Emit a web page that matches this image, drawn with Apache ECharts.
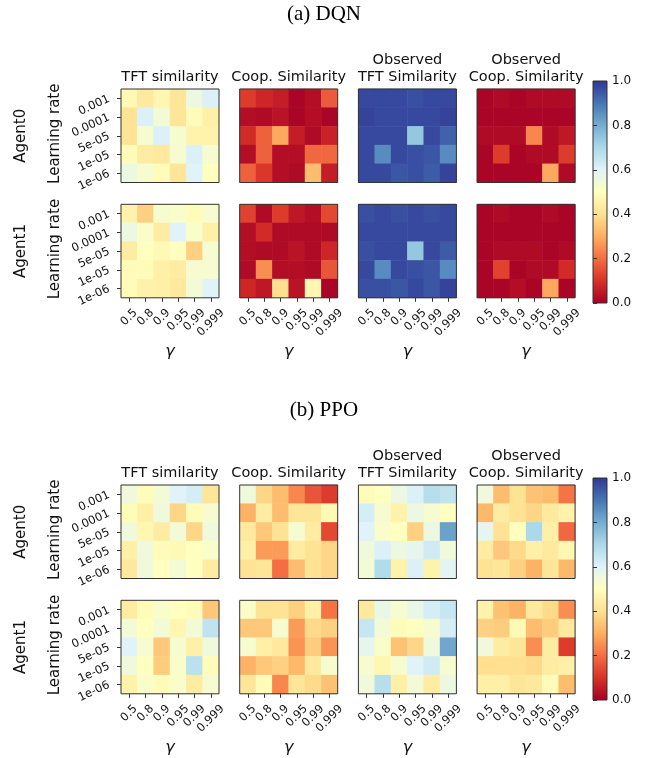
<!DOCTYPE html>
<html><head><meta charset="utf-8">
<script src="https://cdn.jsdelivr.net/npm/echarts@6/dist/echarts.min.js"></script>
<style>html,body{margin:0;padding:0;background:#fff}#chart{width:649px;height:758px}</style>
</head><body><div id="chart"></div>
<script>
const gammas = ['0.5','0.8','0.9','0.95','0.99','0.999'];
const learningRates = ['0.001','0.0001','5e-05','1e-05','1e-06'];
const metricTitles = ['TFT similarity','Coop. Similarity','Observed\nTFT Similarity','Observed\nCoop. Similarity'];
const agentNames = ['Agent0','Agent1'];
const sectionTitles = ['(a) DQN','(b) PPO'];
const rdylbu = ['#a50026','#d73027','#f46d43','#fdae61','#fee090','#ffffbf','#e0f3f8','#abd9e9','#74add1','#4575b4','#313695'];

// rows: learning rate 0.001 .. 1e-06 ; columns: gamma 0.5 .. 0.999
const dqnAgent0TFT = [
 [0.48,0.43,0.47,0.42,0.56,0.61],
 [0.41,0.61,0.54,0.42,0.49,0.45],
 [0.41,0.53,0.61,0.53,0.46,0.46],
 [0.49,0.44,0.43,0.53,0.61,0.53],
 [0.56,0.53,0.49,0.42,0.60,0.50]
];
const dqnAgent0Coop = [
 [0.12,0.08,0.06,0.01,0.03,0.17],
 [0.03,0.02,0.04,0.01,0.03,0.01],
 [0.09,0.18,0.29,0.06,0.02,0.07],
 [0.03,0.18,0.03,0.03,0.19,0.19],
 [0.18,0.11,0.03,0.02,0.33,0.06]
];
const dqnAgent0ObsTFT = [
 [0.97,0.97,0.97,0.96,0.97,0.97],
 [0.98,0.97,0.97,0.97,0.97,0.98],
 [0.97,0.97,0.97,0.74,0.97,0.93],
 [0.97,0.86,0.97,0.96,0.95,0.86],
 [0.97,0.97,0.95,0.96,0.94,0.98]
];
const dqnAgent0ObsCoop = [
 [0.01,0.02,0.01,0.02,0.02,0.02],
 [0.01,0.01,0.01,0.01,0.01,0.01],
 [0.02,0.02,0.02,0.24,0.02,0.05],
 [0.01,0.12,0.01,0.02,0.02,0.12],
 [0.01,0.01,0.01,0.01,0.29,0.02]
];
const dqnAgent1TFT = [
 [0.46,0.37,0.53,0.52,0.49,0.53],
 [0.56,0.52,0.44,0.60,0.52,0.45],
 [0.44,0.50,0.48,0.50,0.37,0.53],
 [0.49,0.49,0.45,0.44,0.53,0.53],
 [0.49,0.46,0.45,0.43,0.54,0.60]
];
const dqnAgent1Coop = [
 [0.13,0.02,0.12,0.05,0.03,0.14],
 [0.03,0.09,0.02,0.02,0.02,0.02],
 [0.03,0.02,0.02,0.04,0.02,0.08],
 [0.02,0.25,0.03,0.03,0.02,0.16],
 [0.08,0.05,0.40,0.04,0.47,0.01]
];
const dqnAgent1ObsTFT = [
 [0.96,0.97,0.96,0.97,0.96,0.97],
 [0.97,0.97,0.97,0.97,0.97,0.97],
 [0.96,0.97,0.97,0.74,0.97,0.94],
 [0.97,0.86,0.97,0.96,0.95,0.86],
 [0.96,0.96,0.95,0.97,0.95,0.98]
];
const dqnAgent1ObsCoop = [
 [0.01,0.02,0.01,0.01,0.02,0.01],
 [0.01,0.01,0.01,0.01,0.01,0.01],
 [0.01,0.02,0.02,0.02,0.01,0.02],
 [0.01,0.13,0.01,0.02,0.02,0.09],
 [0.01,0.01,0.03,0.01,0.29,0.01]
];
const ppoAgent0TFT = [
 [0.55,0.49,0.54,0.60,0.62,0.42],
 [0.49,0.45,0.55,0.38,0.49,0.53],
 [0.55,0.47,0.44,0.54,0.38,0.55],
 [0.45,0.55,0.49,0.48,0.50,0.52],
 [0.43,0.55,0.50,0.54,0.50,0.44]
];
const ppoAgent0Coop = [
 [0.55,0.38,0.33,0.24,0.16,0.12],
 [0.31,0.44,0.33,0.42,0.42,0.48],
 [0.43,0.35,0.41,0.53,0.44,0.14],
 [0.45,0.27,0.27,0.44,0.41,0.38],
 [0.41,0.42,0.20,0.33,0.41,0.38]
];
const ppoAgent0ObsTFT = [
 [0.49,0.50,0.56,0.61,0.68,0.66],
 [0.62,0.53,0.46,0.56,0.53,0.50],
 [0.60,0.52,0.50,0.37,0.56,0.82],
 [0.55,0.61,0.56,0.58,0.63,0.55],
 [0.54,0.69,0.46,0.61,0.46,0.59]
];
const ppoAgent0ObsCoop = [
 [0.55,0.33,0.41,0.34,0.33,0.21],
 [0.32,0.44,0.41,0.38,0.43,0.46],
 [0.58,0.41,0.50,0.70,0.45,0.19],
 [0.44,0.35,0.39,0.45,0.43,0.47],
 [0.41,0.42,0.37,0.31,0.42,0.32]
];
const ppoAgent1TFT = [
 [0.44,0.49,0.52,0.50,0.49,0.35],
 [0.54,0.50,0.54,0.47,0.54,0.66],
 [0.60,0.53,0.35,0.53,0.45,0.55],
 [0.55,0.50,0.36,0.52,0.67,0.49],
 [0.46,0.52,0.49,0.52,0.44,0.53]
];
const ppoAgent1Coop = [
 [0.52,0.41,0.41,0.37,0.45,0.21],
 [0.35,0.35,0.53,0.27,0.39,0.37],
 [0.53,0.45,0.43,0.26,0.36,0.26],
 [0.31,0.35,0.37,0.32,0.43,0.53],
 [0.42,0.49,0.24,0.42,0.39,0.34]
];
const ppoAgent1ObsTFT = [
 [0.43,0.57,0.53,0.57,0.62,0.65],
 [0.65,0.54,0.49,0.50,0.53,0.62],
 [0.58,0.52,0.34,0.38,0.55,0.81],
 [0.53,0.47,0.53,0.60,0.63,0.53],
 [0.55,0.68,0.45,0.54,0.44,0.56]
];
const ppoAgent1ObsCoop = [
 [0.46,0.34,0.31,0.43,0.39,0.25],
 [0.37,0.36,0.48,0.33,0.36,0.43],
 [0.55,0.44,0.42,0.25,0.44,0.12],
 [0.40,0.40,0.40,0.39,0.44,0.45],
 [0.45,0.45,0.42,0.43,0.49,0.33]
];

const sections = [
  [[dqnAgent0TFT,dqnAgent0Coop,dqnAgent0ObsTFT,dqnAgent0ObsCoop],[dqnAgent1TFT,dqnAgent1Coop,dqnAgent1ObsTFT,dqnAgent1ObsCoop]],
  [[ppoAgent0TFT,ppoAgent0Coop,ppoAgent0ObsTFT,ppoAgent0ObsCoop],[ppoAgent1TFT,ppoAgent1Coop,ppoAgent1ObsTFT,ppoAgent1ObsCoop]]
];

// layout
const colLefts = [121, 239.7, 358.4, 477.1];
const cellW = 98, cellH = 93.5;
const rowTops = [[89, 204.3], [485, 600.3]];
const cbarTops = [81, 478], cbarH = 222, cbarLeft = 593, cbarW = 14;
const sectionTitleY = [14, 410];
const FONT = 'DejaVu Sans';
const TXT = '#111';
const TICK_FS = 11.5;
const PAD = 8.5;
const X_ROT = 45, Y_ROT = 25;

// matplotlib-like centred rotated x labels
const ctx = document.createElement('canvas').getContext('2d');
ctx.font = TICK_FS + 'px "' + FONT + '"';
const tw = s => ctx.measureText(s).width;
const boxH = TICK_FS * 1.164;
function xLabelCfg() {
  const ws = gammas.map(tw), L0 = Math.min(...ws);
  const s = Math.sin(X_ROT * Math.PI / 180);
  const rich = {};
  ws.forEach((w, i) => { const P = (w - L0) / 2;
    rich['g' + i] = {fontSize: TICK_FS, fontFamily: FONT, color: TXT, padding: [P, P, 0, 0]}; });
  return {margin: PAD + s * (L0 + boxH) / 2, rich, formatter: (v, i) => '{g' + i + '|' + v + '}'};
}
const xl = xLabelCfg();

const grid = [], xAxis = [], yAxis = [], series = [], graphic = [];
let gi = 0;
sections.forEach((sec, s) => {
  sec.forEach((agentPanels, a) => {
    agentPanels.forEach((vals, m) => {
      grid.push({left: colLefts[m], top: rowTops[s][a], width: cellW, height: cellH,
        show: true, borderColor: '#333', borderWidth: 1, backgroundColor: 'transparent', z: 5});
      xAxis.push({type: 'category', gridIndex: gi, data: gammas,
        axisLine: {show: false}, splitLine: {show: false},
        axisTick: {show: a === 1, alignWithLabel: true, length: 4, lineStyle: {color: '#333'}},
        axisLabel: {show: a === 1, interval: 0, rotate: X_ROT, align: 'center', verticalAlign: 'middle',
          fontSize: TICK_FS, fontFamily: FONT, color: TXT, margin: xl.margin, rich: xl.rich, formatter: xl.formatter}});
      yAxis.push({type: 'category', gridIndex: gi, data: learningRates, inverse: true,
        axisLine: {show: false}, splitLine: {show: false},
        axisTick: {show: m === 0, alignWithLabel: true, length: 4, lineStyle: {color: '#333'}},
        axisLabel: {show: m === 0, interval: 0, rotate: Y_ROT,
          fontSize: TICK_FS, fontFamily: FONT, color: TXT, margin: 12}});
      const data = [];
      vals.forEach((row, r) => row.forEach((v, c) => data.push([c, r, v])));
      series.push({type: 'heatmap', xAxisIndex: gi, yAxisIndex: gi, data: data,
        itemStyle: {borderWidth: 0}, emphasis: {disabled: true}, silent: true, progressive: 0});
      gi++;
    });
  });
  metricTitles.forEach((t, m) => {
    const lines = t.split('\n').reverse();
    lines.forEach((ln, k) => {
      graphic.push({type: 'text', x: colLefts[m] + cellW / 2, y: rowTops[s][0] - 12 - k * 17,
        style: {text: ln, fontSize: 14.5, fontFamily: FONT, fill: TXT, textAlign: 'center', textVerticalAlign: 'middle'}});
    });
    graphic.push({type: 'text', x: colLefts[m] + cellW / 2, y: rowTops[s][1] + cellH + 54,
      style: {text: 'γ', fontSize: 16, fontStyle: 'italic', fontFamily: FONT, fill: TXT, textAlign: 'center', textVerticalAlign: 'middle'}});
  });
  agentNames.forEach((n, a) => {
    const cy = rowTops[s][a] + cellH / 2;
    graphic.push({type: 'text', x: 21, y: cy, rotation: Math.PI / 2,
      style: {text: n, fontSize: 15, fontFamily: FONT, fill: TXT, textAlign: 'center', textVerticalAlign: 'middle'}});
    graphic.push({type: 'text', x: 55.5, y: cy - 2, rotation: Math.PI / 2,
      style: {text: 'Learning rate', fontSize: 15, fontFamily: FONT, fill: TXT, textAlign: 'center', textVerticalAlign: 'middle'}});
  });
  graphic.push({type: 'text', x: 324, y: sectionTitleY[s],
    style: {text: sectionTitles[s], fontSize: 21, fontFamily: 'Liberation Serif', fill: '#000', textAlign: 'center', textVerticalAlign: 'middle'}});
  grid.push({left: cbarLeft, top: cbarTops[s], width: cbarW, height: cbarH, show: true,
    borderColor: '#333', borderWidth: 1,
    backgroundColor: {type: 'linear', x: 0, y: 0, x2: 0, y2: 1,
      colorStops: rdylbu.slice().reverse().map((c, i) => ({offset: i / (rdylbu.length - 1), color: c}))}});
  xAxis.push({type: 'value', gridIndex: gi, show: false, min: 0, max: 1});
  yAxis.push({type: 'value', gridIndex: gi, position: 'right', min: 0, max: 1, interval: 0.2,
    axisLine: {show: false}, splitLine: {show: false},
    axisTick: {show: true, length: 4, lineStyle: {color: '#333'}},
    axisLabel: {fontSize: 12, fontFamily: FONT, color: TXT, margin: 5, formatter: v => v.toFixed(1)}});
  gi++;
});

const heatIdx = series.map((_, i) => i);
const chart = echarts.init(document.getElementById('chart'), null, {renderer: 'canvas'});
chart.setOption({
  animation: false,
  backgroundColor: '#fff',
  grid, xAxis, yAxis, series, graphic,
  visualMap: {type: 'continuous', show: false, min: 0, max: 1, dimension: 2, seriesIndex: heatIdx,
    inRange: {color: rdylbu}}
});
</script></body></html>
